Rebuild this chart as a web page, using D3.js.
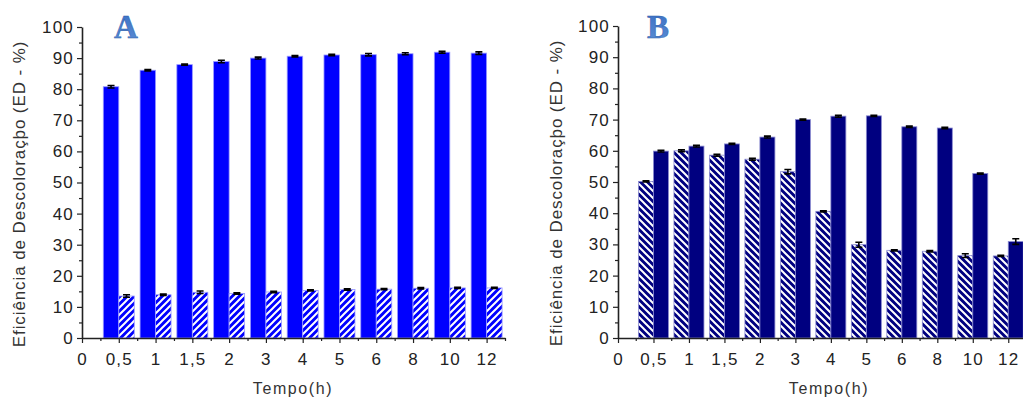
<!DOCTYPE html>
<html>
<head>
<meta charset="utf-8">
<script src="https://cdn.jsdelivr.net/npm/d3@7"></script>
<style>
  body { margin: 0; background: #fff; }
  svg { display: block; font-family: "Liberation Sans", Arial, sans-serif; }
</style>
</head>
<body>
<div id="chart"></div>
<script>
const tickLabels = ["0", "0,5", "1", "1,5", "2", "3", "4", "5", "6", "8", "10", "12"];
const times = ["0,5", "1", "1,5", "2", "3", "4", "5", "6", "8", "10", "12"];

// panel A
const aSolid = [80.8, 86.1, 87.9, 88.9, 90.0, 90.6, 91.0, 91.1, 91.4, 91.9, 91.6];
const aSolidErr = [0.4, 0.2, 0.2, 0.4, 0.3, 0.2, 0.2, 0.4, 0.3, 0.3, 0.4];
const aHatch = [13.5, 13.9, 14.7, 14.3, 14.8, 15.3, 15.6, 15.7, 16.0, 16.1, 16.1];
const aHatchErr = [0.4, 0.2, 0.4, 0.2, 0.2, 0.2, 0.2, 0.2, 0.2, 0.2, 0.2];

// panel B
const bHatch = [50.2, 60.0, 58.6, 57.3, 53.3, 40.6, 29.9, 28.1, 27.8, 26.4, 26.3];
const bHatchErr = [0.2, 0.3, 0.3, 0.3, 0.7, 0.2, 0.8, 0.2, 0.2, 0.6, 0.2];
const bSolid = [59.9, 61.5, 62.2, 64.4, 70.0, 71.1, 71.2, 67.7, 67.3, 52.7, 30.9];
const bSolidErr = [0.3, 0.3, 0.2, 0.3, 0.2, 0.3, 0.2, 0.2, 0.2, 0.2, 0.9];

const yTitle = "Eficiência de Descoloraçþo (ED - %)";
const xTitle = "Tempo(h)";

const svg = d3.select("#chart").append("svg")
  .attr("width", 1023).attr("height", 398);

const defs = svg.append("defs");

function hatch(id, color, dir) {
  const p = defs.append("pattern")
    .attr("id", id)
    .attr("patternUnits", "userSpaceOnUse")
    .attr("width", 7).attr("height", 7);
  p.append("rect").attr("width", 7).attr("height", 7).attr("fill", color);
  const d = dir > 0
    ? "M-1,1 l2,-2 M0,7 l7,-7 M6,8 l2,-2"
    : "M-1,6 l2,2 M0,0 l7,7 M6,-1 l2,2";
  p.append("path").attr("d", d).attr("stroke", "#fff").attr("stroke-width", 2);
}
hatch("hatchA", "#0000ff", 1);
hatch("hatchB", "#000080", -1);

const grad = defs.append("linearGradient").attr("id", "letterGrad")
  .attr("x1", 0).attr("y1", 0).attr("x2", 0).attr("y2", 1);
grad.append("stop").attr("offset", "0%").attr("stop-color", "#3a6fc4");
grad.append("stop").attr("offset", "100%").attr("stop-color", "#5b8fd6");

function panel(cfg) {
  const g = svg.append("g");
  const x = d3.scaleLinear().domain([0, 11.5]).range([cfg.x0, cfg.x1]);
  const y = d3.scaleLinear().domain([0, 100]).range([338, cfg.yTop]);
  const inner = d3.scaleBand().domain([0, 1])
    .range([-cfg.barW, cfg.barW]).padding(0);

  // bars + error bars
  cfg.series.forEach((s, k) => {
    const rows = times.map((t, i) => ({ i, v: s.values[i], e: s.err[i] }));
    g.selectAll(null).data(rows).join("rect")
      .attr("x", d => x(d.i + 1) + inner(k))
      .attr("y", d => y(d.v))
      .attr("width", inner.bandwidth())
      .attr("height", d => y(0) - y(d.v))
      .attr("fill", s.fill)
      .attr("stroke", cfg.edge)
      .attr("stroke-width", 0.8);

    const cx = d => x(d.i + 1) + inner(k) + inner.bandwidth() / 2;
    g.selectAll(null).data(rows).join("path")
      .attr("d", d => `M${cx(d)},${y(d.v + d.e)}V${y(d.v - d.e)}`
        + `M${cx(d) - 3.5},${y(d.v + d.e)}h7M${cx(d) - 3.5},${y(d.v - d.e)}h7`)
      .attr("stroke", "#000").attr("stroke-width", 1.6).attr("fill", "none");
  });

  // y axis
  g.append("g").attr("transform", `translate(${cfg.x0},0)`)
    .call(d3.axisLeft(y).tickValues(d3.range(0, 101, 10)).tickSize(5).tickSizeOuter(0).tickPadding(3));
  g.append("g").attr("transform", `translate(${cfg.x0},0)`)
    .call(d3.axisLeft(y).tickValues(d3.range(5, 100, 10)).tickSize(3).tickFormat("").tickSizeOuter(0))
    .select(".domain").remove();

  // x axis
  g.append("g").attr("transform", `translate(0,${y(0)})`)
    .call(d3.axisBottom(x).tickValues(d3.range(0, 12)).tickFormat(i => tickLabels[i])
      .tickSize(5).tickSizeOuter(0).tickPadding(10));
  g.append("g").attr("transform", `translate(0,${y(0)})`)
    .call(d3.axisBottom(x).tickValues(d3.range(0.5, 12, 1)).tickSize(3).tickFormat("").tickSizeOuter(0))
    .select(".domain").remove();

  g.selectAll(".domain").attr("stroke", "#222").attr("stroke-width", 1.6);
  g.selectAll(".tick line").attr("stroke", "#222").attr("stroke-width", 1.2);
  g.selectAll(".tick text").attr("font-size", 17).attr("fill", "#222")
    .attr("letter-spacing", 1.2)
    .attr("font-family", "Liberation Sans, Arial, sans-serif");

  // titles
  g.append("text")
    .attr("transform", `translate(${cfg.yTitleX},${cfg.yTitleY}) rotate(-90)`)
    .attr("text-anchor", "middle")
    .attr("font-size", 17).attr("letter-spacing", 0.9).attr("fill", "#333")
    .text(yTitle);
  g.append("text")
    .attr("x", cfg.xTitleX).attr("y", 394)
    .attr("text-anchor", "middle")
    .attr("font-size", 16).attr("letter-spacing", 1.6).attr("fill", "#333")
    .text(xTitle);

  g.append("text")
    .attr("x", cfg.letterX).attr("y", 38)
    .attr("text-anchor", "middle")
    .attr("font-family", "Liberation Serif, DejaVu Serif, serif")
    .attr("font-weight", "bold").attr("font-size", 33)
    .attr("fill", "url(#letterGrad)")
    .attr("stroke", "#2a58a8").attr("stroke-width", 0.5)
    .text(cfg.letter);
}

panel({
  x0: 82, x1: 505, yTop: 27, barW: 15.5, edge: "#9a9aff",
  series: [
    { values: aSolid, err: aSolidErr, fill: "#0000ff" },
    { values: aHatch, err: aHatchErr, fill: "url(#hatchA)" }
  ],
  yTitleX: 25, yTitleY: 194, xTitleX: 293, letter: "A", letterX: 126
});

panel({
  x0: 618, x1: 1026, yTop: 26, barW: 15, edge: "#8a8ad0",
  series: [
    { values: bHatch, err: bHatchErr, fill: "url(#hatchB)" },
    { values: bSolid, err: bSolidErr, fill: "#000080" }
  ],
  yTitleX: 562, yTitleY: 193, xTitleX: 829, letter: "B", letterX: 658
});
</script>
</body>
</html>
